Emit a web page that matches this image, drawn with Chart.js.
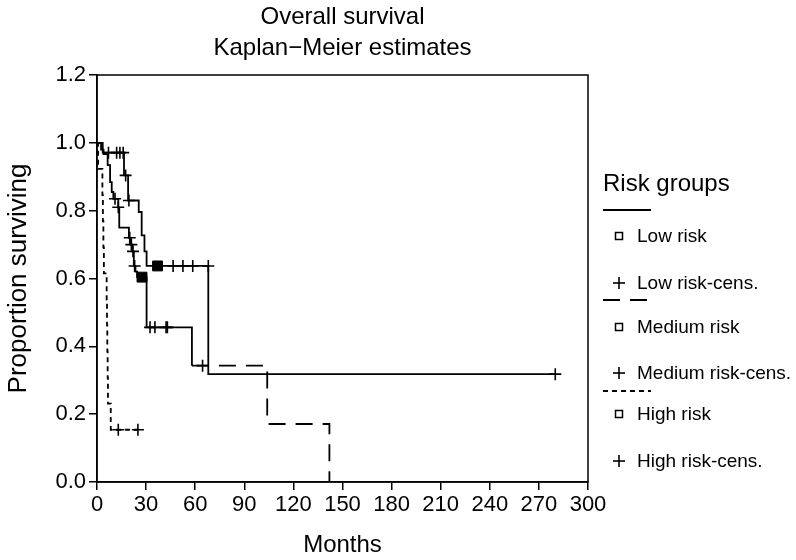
<!DOCTYPE html>
<html>
<head>
<meta charset="utf-8">
<script src="https://cdn.jsdelivr.net/npm/chart.js@4.4.0/dist/chart.umd.min.js"></script>
<style>
  body { margin: 0; background: #fff; }
  #wrap { position: relative; width: 796px; height: 560px; font-family: "Liberation Sans", Arial, sans-serif; }
  .lg { position: absolute; white-space: nowrap; color: #000; }
</style>
</head>
<body>
<div id="wrap">
  <canvas id="km" width="796" height="560"></canvas>
  <div id="legend"></div>
</div>
<script>
// Kaplan-Meier steps: month of each drop and proportion surviving after it
const lowTimes  = [0, 3.5, 16.5, 19, 25.5, 27.3, 29, 30.3, 68, 280];
const lowSurv   = [1, 0.971, 0.904, 0.83, 0.796, 0.727, 0.68, 0.637, 0.318, 0.318];
const medTimes  = [0, 2.5, 4, 6.5, 8, 9, 10, 13, 13.6, 19.5, 20.5, 21.5, 22.5, 23.5, 24.5, 30.3, 58, 104, 142];
const medSurv   = [1, 0.98, 0.967, 0.934, 0.884, 0.855, 0.835, 0.81, 0.75, 0.72, 0.70, 0.68, 0.637, 0.62, 0.604, 0.456, 0.343, 0.171, 0];
const highTimes = [0, 0.7, 3.3, 3.6, 3.9, 4.2, 5.9, 6.1, 6.3, 6.5, 6.7, 8.4, 25];
const highSurv  = [1, 0.923, 0.846, 0.769, 0.692, 0.615, 0.538, 0.462, 0.385, 0.308, 0.231, 0.154, 0.154];

// censored observations
const lowCensT  = [7, 12, 14, 16, 17.5, 19.5, 46.5, 52.5, 58.5, 68, 280];
const lowCensS  = [0.971, 0.971, 0.971, 0.971, 0.904, 0.83, 0.637, 0.637, 0.637, 0.637, 0.318];
const medCensT  = [11, 13, 20, 21, 22, 23, 32.4, 35.4, 42.2, 43, 64.5];
const medCensS  = [0.835, 0.81, 0.72, 0.70, 0.68, 0.637, 0.456, 0.456, 0.456, 0.456, 0.343];
const highCensT = [13, 25];
const highCensS = [0.154, 0.154];

// clustered marks drawn as filled squares
const clusterT = [37, 27.5];
const clusterS = [0.637, 0.604];

const xTicks = [0, 30, 60, 90, 120, 150, 180, 210, 240, 270, 300];
const yTicks = [0.0, 0.2, 0.4, 0.6, 0.8, 1.0, 1.2];

const FONT = '"Liberation Sans", Arial, sans-serif';
const pts = (t, s) => t.map((v, i) => ({ x: v, y: s[i] }));

function curve(t, s, dash, dashFrom) {
  return {
    type: 'line', data: pts(t, s), stepped: true, borderColor: '#000',
    borderWidth: 1.8, pointRadius: 0, fill: false,
    // the plotted dash only shows once the steps get long
    segment: { borderDash: (c) => (c.p0.parsed.x >= dashFrom ? dash : []) }
  };
}
function censor(t, s) {
  return {
    type: 'scatter', data: pts(t, s), pointStyle: 'cross', pointRadius: 6,
    pointBorderWidth: 1.6, borderColor: '#000', backgroundColor: '#000'
  };
}

// box round the plot area
const frame = {
  id: 'frame',
  afterDraw(chart) {
    const { ctx, chartArea: a } = chart;
    ctx.save();
    ctx.strokeStyle = '#000';
    ctx.lineWidth = 1.5;
    ctx.strokeRect(a.left, a.top, a.right - a.left, a.bottom - a.top);
    ctx.restore();
  }
};

new Chart(document.getElementById('km'), {
  data: {
    datasets: [
      curve(lowTimes, lowSurv, [], 0),
      curve(medTimes, medSurv, [17, 10], 58),
      curve(highTimes, highSurv, [5, 4], 0),
      censor(lowCensT, lowCensS),
      censor(medCensT, medCensS),
      censor(highCensT, highCensS),
      {
        type: 'scatter', data: pts(clusterT, clusterS), pointStyle: 'rect',
        pointRadius: 7, backgroundColor: '#000', borderColor: '#000'
      }
    ]
  },
  options: {
    responsive: false,
    animation: false,
    layout: { padding: { left: 0, right: 208, top: 0, bottom: 0 } },
    plugins: {
      legend: { display: false },
      tooltip: { enabled: false },
      title: {
        display: true,
        fullSize: false,
        text: ['Overall survival', 'Kaplan\u2212Meier estimates'],
        color: '#000',
        font: { family: FONT, size: 24, weight: 'normal', lineHeight: 1.3 },
        padding: { top: 2, bottom: 10.6 }
      }
    },
    scales: {
      x: {
        type: 'linear', min: 0, max: 300,
        afterBuildTicks: (s) => { s.ticks = xTicks.map(v => ({ value: v })); },
        afterFit: (s) => { s.height = 78; },
        ticks: { color: '#000', font: { family: FONT, size: 22 }, padding: 2 },
        grid: { drawOnChartArea: false, tickLength: 8, color: '#000', lineWidth: 1.5 },
        border: { color: '#000', width: 1.5 },
        title: { display: true, text: 'Months', color: '#000', font: { family: FONT, size: 24 }, padding: { top: 0, bottom: 0 } }
      },
      y: {
        type: 'linear', min: 0, max: 1.2,
        afterBuildTicks: (s) => { s.ticks = yTicks.map(v => ({ value: v })); },
        afterFit: (s) => { s.width = 97; },
        ticks: { color: '#000', font: { family: FONT, size: 22 }, padding: 3, callback: (v) => Number(v).toFixed(1) },
        grid: { drawOnChartArea: false, tickLength: 8, color: '#000', lineWidth: 1.5 },
        border: { color: '#000', width: 1.5 },
        title: { display: true, text: 'Proportion surviving', color: '#000', font: { family: FONT, size: 26 }, padding: { top: 3, bottom: 3 } }
      }
    }
  },
  plugins: [frame]
});

// legend to the right of the plot
const groups = ['Low risk', 'Medium risk', 'High risk'];
const dashes = ['', '17 10', '5 4'];
const lineY = [210, 300, 391];
const evY = [236, 327, 414];
const censY = [283, 373, 461];

const lg = document.getElementById('legend');
function add(html) { lg.insertAdjacentHTML('beforeend', html); }
add('<div class="lg" style="left:603px;top:168px;font-size:24px;line-height:30px">Risk groups</div>');
groups.forEach((g, i) => {
  add('<svg class="lg" style="left:602px;top:' + (lineY[i] - 3) + 'px" width="50" height="6">' +
      '<line x1="1" y1="3" x2="49" y2="3" stroke="#000" stroke-width="1.8" stroke-dasharray="' + dashes[i] + '"/></svg>');
  add('<svg class="lg" style="left:613px;top:' + (evY[i] - 6) + 'px" width="12" height="12">' +
      '<rect x="2.5" y="2.5" width="7" height="7" fill="none" stroke="#000" stroke-width="1.5"/></svg>');
  add('<div class="lg" style="left:637px;top:' + (evY[i] - 12) + 'px;font-size:19px;line-height:24px">' + g + '</div>');
  add('<svg class="lg" style="left:612px;top:' + (censY[i] - 7) + 'px" width="14" height="14">' +
      '<line x1="1" y1="7" x2="13" y2="7" stroke="#000" stroke-width="1.6"/>' +
      '<line x1="7" y1="1" x2="7" y2="13" stroke="#000" stroke-width="1.6"/></svg>');
  add('<div class="lg" style="left:637px;top:' + (censY[i] - 12) + 'px;font-size:19px;line-height:24px">' + g + '-cens.</div>');
});
</script>
</body>
</html>
